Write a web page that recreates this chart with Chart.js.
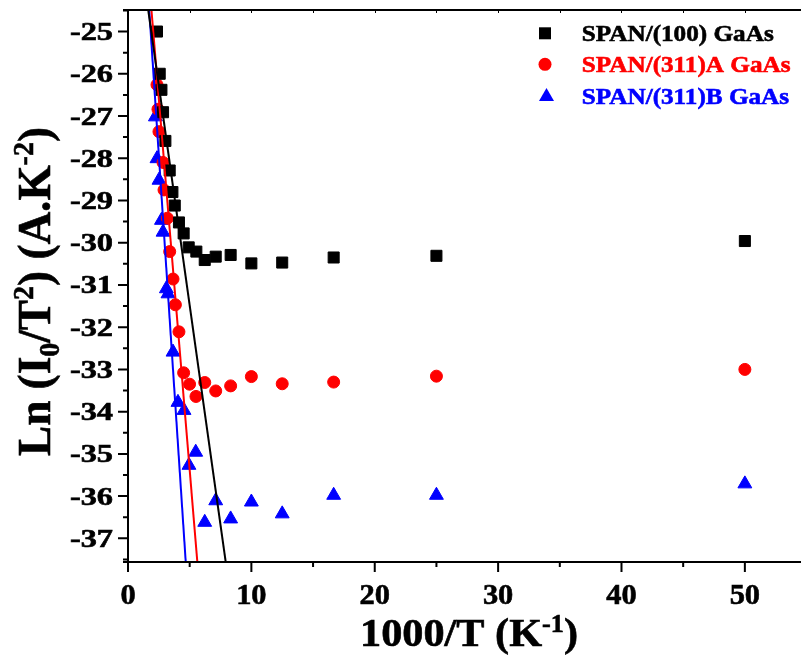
<!DOCTYPE html>
<html>
<head>
<meta charset="utf-8">
<title>Ln(I0/T2) vs 1000/T</title>
<script src="https://cdn.jsdelivr.net/npm/chart.js@4.4.0/dist/chart.umd.min.js"></script>
<style>
  html, body { margin: 0; padding: 0; background: #fff; }
  #wrap { width: 801px; height: 657px; }
</style>
</head>
<body>
<div id="wrap"><canvas id="myChart"></canvas></div>
<script>
// 1000/T (K^-1) and Ln(I0/T^2) for each sample
let x100 = [2.35, 2.57, 2.71, 2.84, 3.03, 3.38, 3.60, 3.79, 4.13, 4.51, 4.92, 5.54, 6.22, 7.11, 8.32, 10.0, 12.5, 16.67, 25, 50];
let y100 = [-25.0, -26.0, -26.38, -26.91, -27.59, -28.29, -28.8, -29.12, -29.52, -29.78, -30.11, -30.21, -30.41, -30.33, -30.29, -30.49, -30.47, -30.35, -30.31, -29.96];

let x311A = [2.35, 2.43, 2.51, 2.84, 2.92, 3.19, 3.38, 3.65, 3.84, 4.13, 4.51, 4.99, 5.51, 6.22, 7.11, 8.32, 10.0, 12.5, 16.67, 25, 50];
let y311A = [-26.26, -26.84, -27.37, -28.1, -28.75, -29.42, -30.21, -30.86, -31.47, -32.11, -33.08, -33.35, -33.64, -33.31, -33.51, -33.39, -33.17, -33.34, -33.3, -33.16, -33.0];

let x311B = [2.22, 2.35, 2.51, 2.71, 2.84, 3.11, 3.24, 3.65, 4.05, 4.54, 4.94, 5.49, 6.22, 7.11, 8.32, 10.0, 12.5, 16.67, 25, 50];
let y311B = [-27.02, -28.01, -28.52, -29.47, -29.75, -31.09, -31.21, -32.59, -33.78, -33.97, -35.27, -34.96, -36.62, -36.11, -36.54, -36.14, -36.42, -35.98, -35.98, -35.71];

// end points of the linear fits
let fit100X = [1.64, 7.92];
let fit100Y = [-24.49, -37.56];
let fit311AX = [1.90, 5.62];
let fit311AY = [-24.49, -37.56];
let fit311BX = [1.72, 4.68];
let fit311BY = [-24.49, -37.56];

let xTickLabels = [0, 10, 20, 30, 40, 50];
let yTickLabels = [-25, -26, -27, -28, -29, -30, -31, -32, -33, -34, -35, -36, -37];

let seriesNames = ['SPAN/(100) GaAs', 'SPAN/(311)A GaAs', 'SPAN/(311)B GaAs'];
let seriesColors = ['#000000', '#ff0000', '#0000ff'];

const serif = '"Liberation Serif", "Times New Roman", serif';

function pts(xs, ys) {
    return xs.map((x, i) => ({ x: x, y: ys[i] }));
}

// fill plus a thin outline, the labels are heavy
function heavyText(ctx, t, x, y) {
    ctx.fillText(t, x, y);
    ctx.strokeText(t, x, y);
}

// text made of pieces: [string, '' | 'sub' | 'sup']
function richWidth(ctx, pieces, size) {
    let w = 0;
    pieces.forEach(([t, k]) => {
        ctx.font = 'bold ' + (k ? size * 0.62 : size) + 'px ' + serif;
        w += ctx.measureText(t).width;
    });
    return w;
}

function richDraw(ctx, pieces, size) {
    let x = 0;
    pieces.forEach(([t, k]) => {
        ctx.font = 'bold ' + (k ? size * 0.62 : size) + 'px ' + serif;
        let dy = k === 'sub' ? size * 0.2 : (k === 'sup' ? -size * 0.36 : 0);
        heavyText(ctx, t, x, dy);
        x += ctx.measureText(t).width;
    });
}

function wideText(ctx, text, x, y, size, sx, align) {
    ctx.save();
    ctx.font = 'bold ' + size + 'px ' + serif;
    ctx.textAlign = align;
    ctx.textBaseline = 'alphabetic';
    ctx.translate(x, y);
    ctx.scale(sx, 1);
    heavyText(ctx, text, 0, 0);
    ctx.restore();
}

function seg(ctx, x1, y1, x2, y2) {
    ctx.moveTo(x1, y1);
    ctx.lineTo(x2, y2);
}

// axes, ticks, titles and legend
const decor = {
    id: 'decor',
    afterDraw(chart) {
        const ctx = chart.ctx;
        const a = chart.chartArea;
        const xs = chart.scales.x;
        const ys = chart.scales.y;
        ctx.save();
        ctx.strokeStyle = '#000';
        ctx.fillStyle = '#000';
        ctx.lineWidth = 2;

        ctx.beginPath();
        seg(ctx, a.left - 5, a.top, a.right, a.top);
        seg(ctx, a.left, a.top, a.left, a.bottom);
        seg(ctx, a.left - 5, a.bottom, a.right, a.bottom);
        for (let v = 0; v <= xs.max; v += 5) {
            let px = xs.getPixelForValue(v);
            seg(ctx, px, a.bottom, px, a.bottom + (v % 10 === 0 ? 10 : 5));
        }
        for (let v = -37.5; v <= ys.max; v += 0.5) {
            let py = ys.getPixelForValue(v);
            seg(ctx, a.left, py, a.left - (Number.isInteger(v) ? 10 : 5), py);
        }
        ctx.stroke();

        // short marks under the top line
        ctx.lineWidth = 1;
        ctx.beginPath();
        for (let v = 5; v <= xs.max; v += 5) {
            let px = Math.round(xs.getPixelForValue(v)) + 0.5;
            seg(ctx, px, a.top, px, a.top + 3);
        }
        ctx.stroke();

        ctx.lineWidth = 0.6;

        // tick labels
        yTickLabels.forEach(v => {
            wideText(ctx, String(v), a.left - 15, ys.getPixelForValue(v) + 8.5, 24.5, 1.32, 'right');
        });
        xTickLabels.forEach(v => {
            wideText(ctx, String(v), xs.getPixelForValue(v), 604, 29, 1.05, 'center');
        });

        // x title
        ctx.textAlign = 'left';
        ctx.textBaseline = 'alphabetic';
        let xt = [['1000/T (K', ''], ['-1', 'sup'], [')', '']];
        let xw = richWidth(ctx, xt, 39);
        ctx.save();
        ctx.translate(469 - 109, 646);
        ctx.scale(218 / xw, 1);
        richDraw(ctx, xt, 39);
        ctx.restore();

        // y title
        let yt = [['Ln (I', ''], ['0', 'sub'], ['/T', ''], ['2', 'sup'], [') (A.K', ''], ['-2', 'sup'], [')', '']];
        let yw = richWidth(ctx, yt, 46);
        ctx.save();
        ctx.translate(50, 292 + 164);
        ctx.rotate(-Math.PI / 2);
        ctx.scale(329 / yw, 1);
        richDraw(ctx, yt, 46);
        ctx.restore();

        // legend
        let rows = [33.3, 64.3, 96];
        let lw = richWidth(ctx, [[seriesNames[0], '']], 23.5);
        let lsx = 192 / lw;
        rows.forEach((ry, i) => {
            ctx.fillStyle = seriesColors[i];
            ctx.strokeStyle = seriesColors[i];
            ctx.beginPath();
            if (i === 0) {
                ctx.rect(539, ry - 6, 12, 12);
            } else if (i === 1) {
                ctx.arc(545, ry, 6.5, 0, Math.PI * 2);
            } else {
                ctx.moveTo(546.5, ry - 8);
                ctx.lineTo(554, ry + 5);
                ctx.lineTo(539, ry + 5);
                ctx.closePath();
            }
            ctx.fill();
            wideText(ctx, seriesNames[i], 581.7, ry + 8, 23.5, lsx, 'left');
        });
        ctx.restore();
    }
};

function fitLine(xs, ys, color) {
    return {
        data: pts(xs, ys),
        showLine: true,
        borderColor: color,
        borderWidth: 2,
        pointRadius: 0,
        fill: false,
        order: 0
    };
}

function markers(xs, ys, style, r, color, name) {
    return {
        label: name,
        data: pts(xs, ys),
        pointStyle: style,
        pointRadius: r,
        backgroundColor: color,
        borderColor: color,
        borderWidth: 1,
        order: 1
    };
}

new Chart(document.getElementById('myChart'), {
    type: 'scatter',
    data: {
        datasets: [
            fitLine(fit100X, fit100Y, seriesColors[0]),
            fitLine(fit311AX, fit311AY, seriesColors[1]),
            fitLine(fit311BX, fit311BY, seriesColors[2]),
            markers(x100, y100, 'rect', 7.8, seriesColors[0], seriesNames[0]),
            markers(x311A, y311A, 'circle', 6, seriesColors[1], seriesNames[1]),
            markers(x311B, y311B, 'triangle', 8, seriesColors[2], seriesNames[2])
        ]
    },
    options: {
        responsive: true,
        maintainAspectRatio: false,
        animation: false,
        devicePixelRatio: 1,
        layout: { autoPadding: false, padding: { left: 128, top: 10, right: 0, bottom: 95 } },
        plugins: {
            legend: { display: false },
            tooltip: { enabled: false }
        },
        scales: {
            x: { type: 'linear', min: 0, max: 54.55, display: false },
            y: { type: 'linear', min: -37.56, max: -24.49, display: false }
        }
    },
    plugins: [decor]
});
</script>
</body>
</html>
